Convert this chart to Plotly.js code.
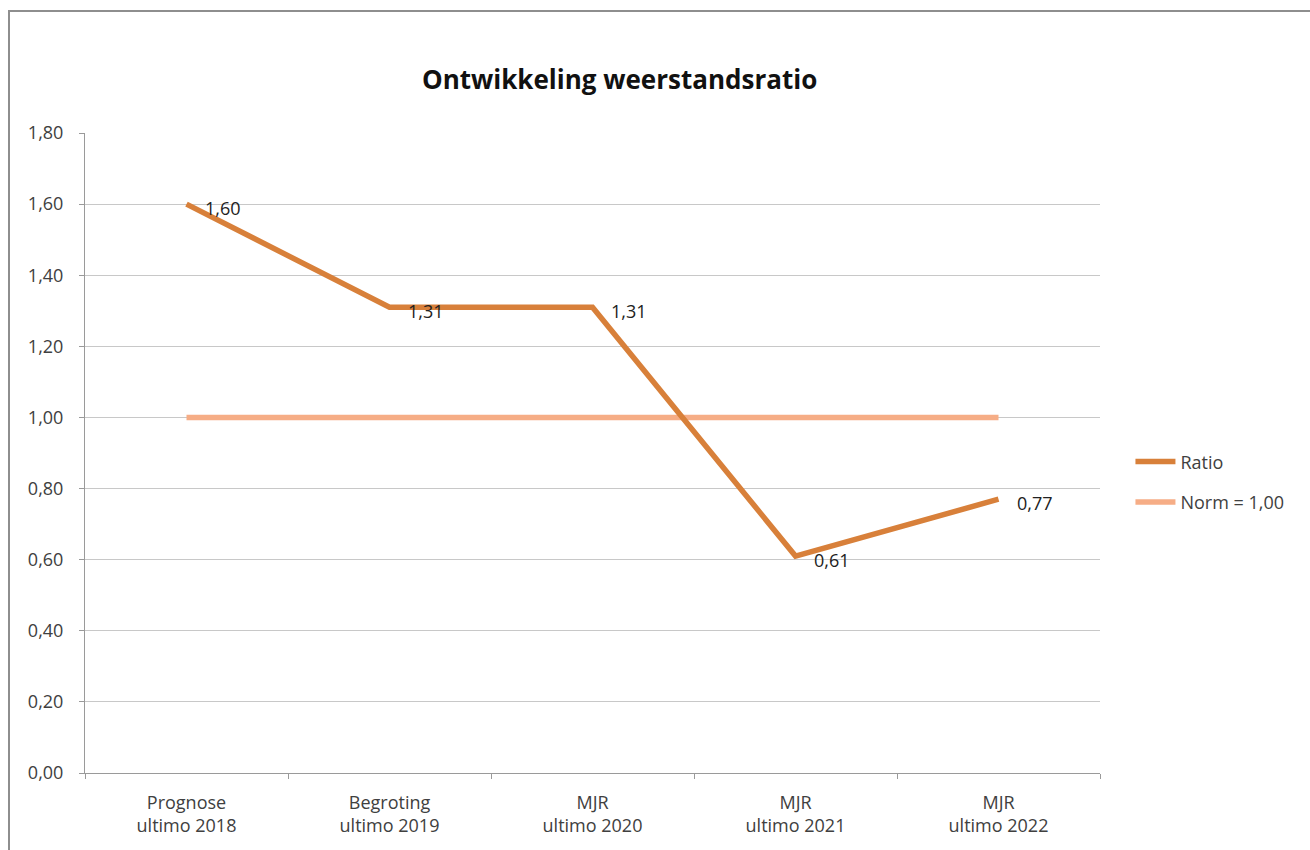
<!DOCTYPE html>
<html>
<head>
<meta charset="utf-8">
<script src="https://cdn.plot.ly/plotly-3.0.1.min.js"></script>
<style>
  html, body { margin: 0; padding: 0; background: #fff; }
  #wrap { position: relative; width: 1310px; height: 850px; }
  #chart { width: 1310px; height: 850px; }
  #frame { position: absolute; left: 8px; top: 10px; width: 1302px; height: 840px;
           border-top: 2px solid #8e8e8e; border-left: 2px solid #8e8e8e; box-sizing: border-box; pointer-events: none; }
</style>
</head>
<body>
<div id="wrap">
  <div id="chart"></div>
  <div id="frame"></div>
</div>
<script>
const categories = ["Prognose<br>ultimo 2018", "Begroting<br>ultimo 2019", "MJR<br>ultimo 2020", "MJR<br>ultimo 2021", "MJR<br>ultimo 2022"];
const ratio = [1.60, 1.31, 1.31, 0.61, 0.77];
const norm = [1.00, 1.00, 1.00, 1.00, 1.00];
const yTicks = [0, 0.2, 0.4, 0.6, 0.8, 1.0, 1.2, 1.4, 1.6, 1.8];
const titleText = "Ontwikkeling weerstandsratio";
const ratioName = "Ratio";
const normName = "Norm = 1,00";

const FONT = "Open Sans, Lato, sans-serif";
const TXT = "#404040";
const FS = 18;

const traces = [
  { x: categories, y: norm, type: "scatter", mode: "lines", name: normName,
    line: { color: "#F6AD86", width: 5.5 }, legendrank: 2, legendgroup: "b", hoverinfo: "skip" },
  { x: categories, y: ratio, type: "scatter", mode: "lines", name: ratioName,
    line: { color: "#D8803A", width: 5.5 }, legendrank: 1, legendgroup: "a", hoverinfo: "skip" }
];

const annotations = categories.map((c, i) => ({
  x: c, y: ratio[i], xref: "x", yref: "y",
  text: ratio[i].toFixed(2).replace(".", ","),
  showarrow: false, xanchor: "left", yanchor: "middle",
  xshift: 16, yshift: -4,
  font: { family: FONT, size: FS, color: "#222" }
}));

const layout = {
  width: 1310, height: 850,
  paper_bgcolor: "#fff", plot_bgcolor: "#fff",
  margin: { l: 85, r: 210, t: 133, b: 77 },
  separators: ",.",
  font: { family: FONT, size: FS, color: TXT },
  title: { text: "<b>" + titleText + "</b>", x: 0.473, xanchor: "center", y: 0.906, yanchor: "middle",
           font: { family: FONT, size: 26, color: "#111" } },
  showlegend: true,
  legend: { x: 1.03, xanchor: "left", y: 0.515, yanchor: "top",
            font: { family: FONT, size: FS, color: TXT },
            traceorder: "grouped", tracegroupgap: 14, bgcolor: "rgba(0,0,0,0)", itemwidth: 40 },
  xaxis: { type: "category", range: [-0.5, 4.5], showgrid: false, showline: true, linecolor: "#9a9a9a", linewidth: 1,
           ticks: "outside", tickson: "boundaries", ticklen: 5, tickcolor: "#9a9a9a", ticklabelstandoff: 13,
           tickfont: { family: FONT, size: FS, color: TXT }, fixedrange: true },
  yaxis: { range: [0, 1.8], tickvals: yTicks, tickformat: ".2f", showgrid: true, gridcolor: "#c8c8c8",
           gridwidth: 1, showline: true, linecolor: "#9a9a9a", linewidth: 1, zeroline: false,
           ticks: "outside", ticklen: 5, tickcolor: "#9a9a9a", ticklabelstandoff: 12,
           tickfont: { family: FONT, size: FS, color: TXT }, fixedrange: true },
  annotations: annotations
};

Plotly.newPlot("chart", traces, layout, { displayModeBar: false, staticPlot: true });
</script>
</body>
</html>
